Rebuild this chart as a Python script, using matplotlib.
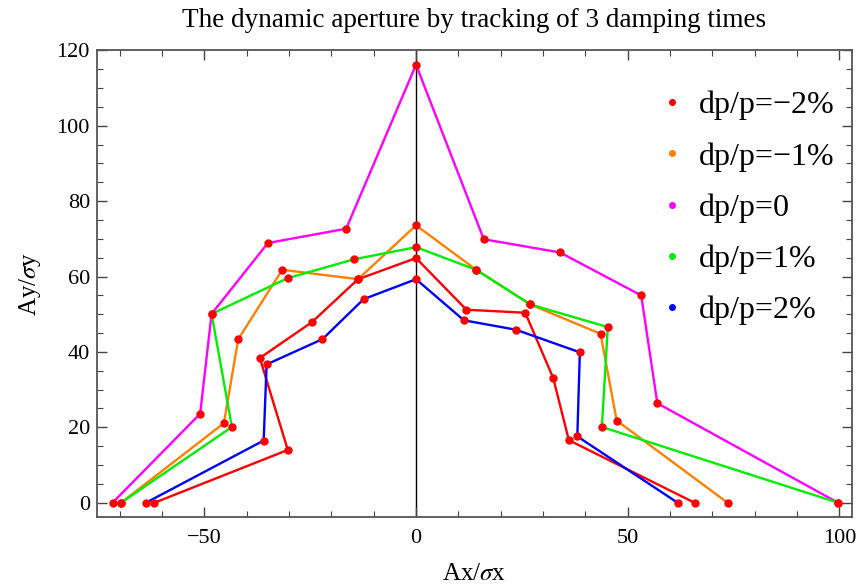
import numpy as np
import matplotlib.pyplot as plt
from matplotlib.lines import Line2D
from matplotlib.ticker import MultipleLocator

plt.rcParams['font.family'] = ['Liberation Serif', 'DejaVu Serif']
plt.rcParams['mathtext.fontset'] = 'stix'

# datos (Ax/sx, Ay/sy)
labels = ["dp/p=\u22122%", "dp/p=\u22121%", "dp/p=0", "dp/p=1%", "dp/p=2%"]
colors = ["#ff0000", "#ff8000", "#ff00ff", "#00ee00", "#0000ff"]

x_m2 = [-61.8, -30.3, -36.9, -24.6, -13.7, 0, 11.9, 25.8, 32.4, 36.1, 65.8]
y_m2 = [0, 14.0, 38.4, 47.9, 59.3, 64.9, 51.2, 50.4, 33.1, 16.6, 0]

x_m1 = [-69.7, -45.4, -42.0, -31.6, -13.7, 0, 14.2, 27.0, 43.6, 47.4, 73.6]
y_m1 = [0, 21.1, 43.4, 61.8, 59.3, 73.6, 61.8, 52.6, 44.8, 21.8, 0]

x_0 = [-71.7, -51.0, -48.3, -35.0, -16.5, 0, 16.0, 34.0, 53.2, 57.0, 99.7]
y_0 = [0, 23.6, 50.1, 68.9, 72.7, 116.2, 69.9, 66.4, 55.0, 26.4, 0]

x_p1 = [-69.7, -43.5, -48.3, -30.3, -14.6, 0, 14.2, 27.0, 45.3, 43.9, 99.7]
y_p1 = [0, 20.1, 50.1, 59.6, 64.6, 67.8, 61.8, 52.6, 46.6, 20.1, 0]

x_p2 = [-63.8, -36.0, -35.3, -22.1, -12.4, 0, 11.3, 23.6, 38.7, 38.1, 61.8]
y_p2 = [0, 16.5, 36.7, 43.4, 54.0, 59.3, 48.4, 45.9, 39.9, 17.6, 0]

xs = [x_m2, x_m1, x_0, x_p1, x_p2]
ys = [y_m2, y_m1, y_0, y_p1, y_p2]

fig = plt.figure(figsize=(8.65, 5.86), dpi=100)
ax = fig.add_axes([0.112, 0.117, 0.873, 0.797])

ax.axvline(0, color="black", lw=1.0, zorder=1)

# lineas de cada serie
for x, y, c in zip(xs, ys, colors):
    ax.plot(x, y, color=c, lw=1.7, zorder=2)
# puntos rojos encima
for x, y in zip(xs, ys):
    ax.plot(x, y, "o", color="red", ms=5, zorder=3)

ax.set_xlim(-75.4, 103.0)
ax.set_ylim(-3.9, 120)
ax.xaxis.set_major_locator(MultipleLocator(50))
ax.xaxis.set_minor_locator(MultipleLocator(10))
ax.yaxis.set_major_locator(MultipleLocator(20))
ax.yaxis.set_minor_locator(MultipleLocator(5))
ax.tick_params(which="both", direction="in", top=True, right=True,
               color="#444444", labelsize=16)
ax.tick_params(which="major", length=7, width=1)
ax.tick_params(which="minor", length=4, width=0.8)
ax.tick_params(axis="x", which="major", pad=8)
ax.tick_params(axis="y", which="major", pad=5)
for s in ax.spines.values():
    s.set_color("#555555")
    s.set_linewidth(1.3)
ax.set_xticks([-50, 0, 50, 100])
ax.set_xticklabels(["\u221250", "0", "50", "100"])

ax.set_xlabel("Ax/$\\sigma$x", fontsize=18)
ax.set_ylabel("Ay/$\\sigma$y", fontsize=18)
ax.xaxis.set_label_coords(0.5, -0.097)
ax.yaxis.set_label_coords(-0.072, 0.5)
ax.set_title("The dynamic aperture by tracking of 3 damping times",
             fontsize=19.5, pad=17)

handles = [Line2D([], [], ls="none", marker="o", ms=4, color=c) for c in colors]
ax.legend(handles, labels, loc="upper left", bbox_to_anchor=(0.706, 0.975),
          frameon=False, fontsize=23, handlelength=0.8, handletextpad=0.47,
          labelspacing=0.68)

plt.savefig("out.png")
